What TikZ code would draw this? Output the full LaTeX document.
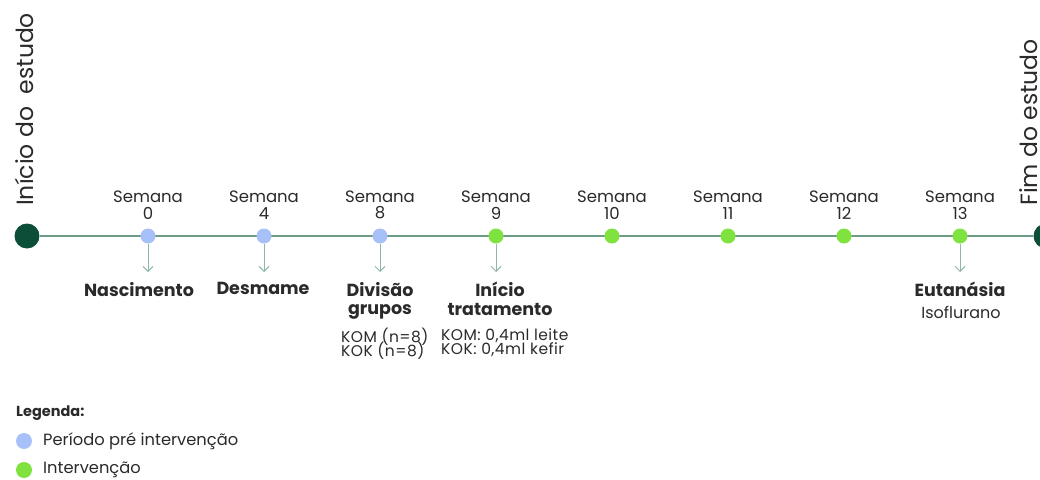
\documentclass[tikz,border=0pt]{standalone}
\usepackage{fontspec}
\setmainfont{Poppins}
\newfontfamily\widefont[LetterSpace=3]{Poppins}
\newcommand\tightlines{\lineskiplimit=-20pt\relax}
\usetikzlibrary{arrows.meta}
\definecolor{darkgreen}{HTML}{0B4F38}
\definecolor{linegreen}{HTML}{6F9C86}
\definecolor{arrowgreen}{HTML}{8FB8A6}
\definecolor{predot}{HTML}{A8C0F8}
\definecolor{intdot}{HTML}{80E23F}
\definecolor{txt}{HTML}{2A2A2A}
\tikzset{
  enddot/.style={circle,fill=darkgreen,minimum size=25pt,inner sep=0pt},
  predotst/.style={circle,fill=predot,minimum size=15pt,inner sep=0pt},
  intdotst/.style={circle,fill=intdot,minimum size=15pt,inner sep=0pt},
  weeklbl/.style={font=\fontsize{16.5}{16.5}\selectfont,text=txt,align=center,inner sep=0pt},
  eventlbl/.style={font=\fontsize{17.5}{18.5}\selectfont\bfseries,text=txt,align=center,inner sep=0pt,anchor=north},
  notelbl/.style={font=\widefont\fontsize{15.5}{14}\selectfont\tightlines,text=txt,align=left,inner sep=0pt,anchor=north west},
  sidelbl/.style={font=\fontsize{23.5}{26}\selectfont,text=txt,rotate=90,inner sep=0pt,anchor=base west},
  tick/.style={draw=arrowgreen,line width=0.9pt,-{Straight Barb[length=5pt,width=10pt]}},
  legdot/.style={circle,minimum size=16pt,inner sep=0pt},
  legtxt/.style={font=\fontsize{16.3}{17}\selectfont,text=txt,anchor=west,inner sep=0pt},
}
\begin{document}
\begin{tikzpicture}[x=1pt,y=-1pt]
\useasboundingbox (0,0) rectangle (1040,479);
% timeline
\node[enddot] (start) at (27,236) {};
\node[enddot] (end) at (1046,236) {};
\draw[linegreen,line width=1.4pt] (start) -- (end);
% week markers
\foreach \n/\x/\w/\s in {w0/148/0/predotst,w4/264/4/predotst,w8/380/8/predotst,
  w9/496/9/intdotst,w10/612/10/intdotst,w11/728/11/intdotst,w12/844/12/intdotst,w13/960/13/intdotst}{
  \node[\s] (\n) at (\x,236) {};
  \node[weeklbl] (\n lbl) at (\x,205) {Semana\\\w};
}
% event arrows
\foreach \n in {w0,w4,w8,w9,w13}{
  \coordinate (\n tip) at ([yshift=-36pt]\n.center);
  \draw[tick] (\n.south) -- (\n tip);
}
\node[eventlbl] (birth) at (139,282) {Nascimento};
\node[eventlbl] (wean) at (263,282) {Desmame};
\node[eventlbl] (split) at (380,282) {Divisão\\grupos};
\node[eventlbl] (treat) at (500,282) {Início\\tratamento};
\node[eventlbl] (euth) at (960,282) {Eutanásia};
\node[font=\fontsize{16}{16}\selectfont,text=txt,anchor=north,inner sep=0pt] (iso) at (961,306) {Isoflurano};
\node[notelbl] (groups) at (341,328) {KOM (n=8)\\KOK (n=8)};
\node[notelbl] (doses) at (441,328) {KOM: 0,4ml leite\\KOK: 0,4ml kefir};
% side titles
\node[sidelbl] (begin) at (33,206) {Início do\ \ estudo};
\node[sidelbl] (finish) at (1037,206) {Fim do estudo};
% legend
\node[font=\fontsize{14.5}{15}\selectfont\bfseries,text=txt,anchor=west,inner sep=0pt] (legend) at (16,413) {Legenda:};
\node[legdot,fill=predot] (lpre) at (24,441) {};
\node[legtxt] (lpret) at (43,441) {Período pré intervenção};
\node[legdot,fill=intdot] (lint) at (24,470) {};
\node[legtxt] (lintt) at (43,470) {Intervenção};
\end{tikzpicture}
\end{document}
